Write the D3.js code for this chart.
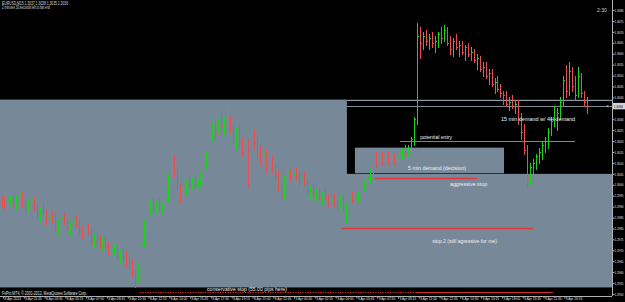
<!DOCTYPE html>
<html><head><meta charset="utf-8">
<script src="https://cdn.jsdelivr.net/npm/d3@7"></script>
<style>html,body{margin:0;padding:0;background:#000;overflow:hidden}svg{display:block}</style>
</head><body>
<svg id="c" width="625" height="302"></svg>
<script>
// ---------- DATA ----------
const firstOpen = 1.2994;
const highs = [
1.2995,1.2994,1.2993,1.2995,1.2996,1.2995,1.2999,1.2997,1.2993,1.2993,
1.2995,1.2994,1.2991,1.2990,1.2992,1.2989,1.2986,1.2988,1.2986,1.2984,
1.2986,1.2987,1.2985,1.2983,1.2985,1.2986,1.2984,1.2981,1.2980,1.2982,
1.2980,1.2978,1.2979,1.2977,1.2976,1.2977,1.2974,1.2972,1.2973,1.2972,
1.2970,1.2971,1.2969,1.2968,1.2966,1.2961,1.2964,1.2974,1.2984,1.2990,
1.2993,1.2994,1.2992,1.2994,1.2992,1.2995,1.3005,1.3015,1.3013,1.3008,
1.3001,1.2999,1.3002,1.3004,1.3003,1.3004,1.3002,1.3006,1.3009,1.3015,
1.3024,1.3028,1.3030,1.3031,1.3033,1.3031,1.3039,1.3032,1.3028,1.3026,
1.3027,1.3022,1.3020,1.3021,1.3024,1.3025,1.3022,1.3018,1.3016,1.3016,
1.3012,1.3013,1.3009,1.3007,1.3001,1.3004,1.3008,1.3007,1.3006,1.3008,
1.3006,1.3004,1.3006,1.3002,1.3000,1.3001,1.2998,1.2999,1.2997,1.2999,
1.2996,1.2995,1.2996,1.2993,1.2995,1.2996,1.2991,1.2995,1.2997,1.2996,
1.2997,1.2999,1.3002,1.3004,1.3007,1.3012,1.3015,1.3013,1.3015,1.3013,
1.3015,1.3013,1.3014,1.3013,1.3016,1.3017,1.3018,1.3018,1.3022,1.3031,
1.3074,1.3072,1.3070,1.3071,1.3069,1.3070,1.3068,1.3070,1.3072,1.3073,
1.3072,1.3068,1.3067,1.3069,1.3066,1.3066,1.3064,1.3065,1.3063,1.3062,
1.3060,1.3059,1.3056,1.3056,1.3053,1.3053,1.3049,1.3050,1.3046,1.3043,
1.3043,1.3040,1.3041,1.3039,1.3039,1.3033,1.3028,1.3018,1.3010,1.3012,
1.3014,1.3017,1.3020,1.3022,1.3026,1.3031,1.3036,1.3035,1.3040,1.3050,
1.3055,1.3056,1.3054,1.3050,1.3054,1.3051,1.3043,1.3040];
const lows = [
1.2990,1.2989,1.2988,1.2991,1.2990,1.2989,1.2993,1.2990,1.2987,1.2988,
1.2990,1.2988,1.2985,1.2984,1.2987,1.2982,1.2980,1.2983,1.2979,1.2977,
1.2980,1.2982,1.2979,1.2977,1.2979,1.2981,1.2978,1.2975,1.2974,1.2977,
1.2973,1.2972,1.2974,1.2971,1.2970,1.2971,1.2968,1.2966,1.2968,1.2966,
1.2964,1.2966,1.2963,1.2962,1.2958,1.2953,1.2955,1.2962,1.2972,1.2980,
1.2986,1.2988,1.2987,1.2989,1.2987,1.2990,1.2993,1.3002,1.3004,1.2998,
1.2992,1.2993,1.2996,1.2999,1.2998,1.2999,1.2998,1.3000,1.3004,1.3007,
1.3014,1.3020,1.3022,1.3024,1.3026,1.3023,1.3027,1.3024,1.3019,1.3017,
1.3018,1.3013,1.3012,1.2999,1.3014,1.3017,1.3012,1.3009,1.3008,1.3006,
1.3004,1.3006,1.3003,1.2997,1.2993,1.2994,1.3001,1.3002,1.3001,1.3002,
1.3000,1.2998,1.3000,1.2996,1.2994,1.2995,1.2993,1.2993,1.2991,1.2993,
1.2990,1.2989,1.2990,1.2988,1.2989,1.2988,1.2983,1.2990,1.2992,1.2991,
1.2992,1.2994,1.2997,1.2999,1.3001,1.3005,1.3008,1.3007,1.3009,1.3008,
1.3009,1.3008,1.3009,1.3008,1.3011,1.3012,1.3013,1.3013,1.3016,1.3018,
1.3028,1.3058,1.3062,1.3064,1.3062,1.3063,1.3061,1.3063,1.3065,1.3066,
1.3064,1.3060,1.3059,1.3062,1.3059,1.3060,1.3057,1.3059,1.3057,1.3056,
1.3053,1.3052,1.3050,1.3049,1.3046,1.3045,1.3042,1.3043,1.3040,1.3037,
1.3036,1.3034,1.3035,1.3033,1.3028,1.3021,1.3014,1.2999,1.3000,1.3005,
1.3007,1.3010,1.3012,1.3015,1.3017,1.3023,1.3027,1.3025,1.3030,1.3036,
1.3040,1.3041,1.3043,1.3039,1.3040,1.3040,1.3036,1.3033];
const closes = [
1.2992,1.2990,1.2993,1.2994,1.2991,1.2995,1.2996,1.2991,1.2989,1.2992,
1.2993,1.2989,1.2986,1.2989,1.2988,1.2983,1.2985,1.2984,1.2980,1.2982,
1.2985,1.2983,1.2980,1.2981,1.2984,1.2982,1.2979,1.2977,1.2979,1.2978,
1.2974,1.2976,1.2975,1.2972,1.2974,1.2972,1.2969,1.2970,1.2971,1.2967,
1.2968,1.2967,1.2965,1.2964,1.2959,1.2956,1.2963,1.2973,1.2982,1.2988,
1.2991,1.2989,1.2991,1.2990,1.2992,1.2994,1.3004,1.3010,1.3006,1.2999,
1.2994,1.2997,1.3001,1.3000,1.3002,1.3000,1.3001,1.3005,1.3008,1.3014,
1.3022,1.3025,1.3024,1.3030,1.3027,1.3029,1.3031,1.3025,1.3021,1.3024,
1.3019,1.3015,1.3018,1.3016,1.3022,1.3019,1.3014,1.3012,1.3014,1.3008,
1.3010,1.3007,1.3005,1.2998,1.2995,1.3003,1.3006,1.3003,1.3005,1.3004,
1.3001,1.3003,1.3001,1.2997,1.2999,1.2996,1.2997,1.2994,1.2996,1.2994,
1.2991,1.2993,1.2991,1.2990,1.2994,1.2989,1.2990,1.2994,1.2993,1.2995,
1.2996,1.2998,1.3001,1.3003,1.3006,1.3010,1.3009,1.3012,1.3010,1.3012,
1.3010,1.3012,1.3010,1.3013,1.3015,1.3016,1.3014,1.3017,1.3021,1.3030,
1.3068,1.3065,1.3068,1.3066,1.3067,1.3065,1.3066,1.3069,1.3067,1.3071,
1.3065,1.3062,1.3066,1.3063,1.3064,1.3061,1.3063,1.3060,1.3061,1.3057,
1.3058,1.3053,1.3054,1.3050,1.3051,1.3046,1.3047,1.3044,1.3042,1.3041,
1.3037,1.3038,1.3036,1.3037,1.3030,1.3024,1.3016,1.3003,1.3008,1.3010,
1.3013,1.3015,1.3018,1.3020,1.3024,1.3029,1.3030,1.3033,1.3038,1.3048,
1.3043,1.3052,1.3045,1.3041,1.3050,1.3042,1.3038,1.3036];

const priceTicks = [1.3080,1.3075,1.3070,1.3065,1.3060,1.3055,1.3050,1.3045,1.3040,
  1.3030,1.3025,1.3020,1.3015,1.3010,1.3005,1.3000,1.2995,1.2990,1.2985,1.2980,1.2975,
  1.2970,1.2965,1.2960,1.2955,1.2950];
const timeLabels = ["8 Apr 2013","8 Apr 01:45","8 Apr 03:30","8 Apr 05:15","8 Apr 07:00",
  "8 Apr 08:45","8 Apr 10:30","8 Apr 12:15","8 Apr 14:00","8 Apr 15:45","8 Apr 17:30",
  "8 Apr 19:15","8 Apr 21:00","8 Apr 22:45","9 Apr 00:30","9 Apr 02:15","9 Apr 04:00",
  "9 Apr 05:45","9 Apr 07:30","9 Apr 09:15","9 Apr 11:00","9 Apr 12:45","9 Apr 14:30",
  "9 Apr 16:15","9 Apr 18:00","9 Apr 19:45","9 Apr 21:30","9 Apr 23:15"];

// zones [low, high] and their bar-index spans
const grayZone = [1.2953, 1.3039];
const blackZone = [1.3005, 1.3039], blackZoneFrom = 116.3;
const demand5 = [1.3005, 1.3017], demand5Span = [119, 169.2];
const entryLevel = 1.3020, entrySpan = [134.2, 193.1];
const aggStop = 1.3003, aggSpan = [125.8, 160.1];
const stop2 = 1.2980, stop2Span = [114.6, 179];
const consStop = 1.2951, consSpan = [46.6, 139.2, 185.7];
const bidPrice = 1.3036;

// ---------- DRAW ----------
const W = 625, H = 302, plotR = 612, plotB = 296;
const svg = d3.select('#c');
const y = d3.scaleLinear().domain([1.2950, 1.3080]).range([294, 10]);
const x = d3.scaleLinear().domain([0, 197]).range([1.5, 1.5 + 2.97 * 197]);
const font = "'Liberation Sans', Arial, sans-serif";

svg.append('rect').attr('width', W).attr('height', H).attr('fill', '#000');
const plot = svg.append('g');
const gray = '#778899';
plot.append('rect').attr('x', 0).attr('y', y(grayZone[1])).attr('width', plotR)
  .attr('height', y(grayZone[0]) - y(grayZone[1])).attr('fill', gray);
plot.append('rect').attr('x', x(blackZoneFrom)).attr('y', y(blackZone[1]))
  .attr('width', plotR - x(blackZoneFrom)).attr('height', y(blackZone[0]) - y(blackZone[1])).attr('fill', '#000');
plot.append('rect').attr('x', x(demand5Span[0])).attr('y', y(demand5[1]))
  .attr('width', x(demand5Span[1]) - x(demand5Span[0])).attr('height', y(demand5[0]) - y(demand5[1]) - 0.6)
  .attr('fill', gray);

plot.append('line').attr('x1', x(blackZoneFrom)).attr('x2', plotR).attr('y1', Math.round(y(grayZone[1])) + 0.5)
  .attr('y2', Math.round(y(grayZone[1])) + 0.5).attr('stroke', '#8e9aa6').attr('stroke-width', 1);
plot.append('line').attr('x1', x(blackZoneFrom)).attr('x2', plotR).attr('y1', Math.round(y(bidPrice)) + 0.5)
  .attr('y2', Math.round(y(bidPrice)) + 0.5).attr('stroke', '#7e8a96').attr('stroke-width', 1);

// bars
const bars = closes.map((c, i) => ({i, o: i === 0 ? firstOpen : closes[i - 1], h: highs[i], l: lows[i], c}));
const green = '#19d419', red = '#ea4f4f';
const bg = plot.append('g').attr('shape-rendering', 'crispEdges');
bars.forEach(b => {
  const cx = Math.round(x(b.i)) + 0.5;
  const col = b.c >= b.o ? green : red;
  bg.append('line').attr('x1', cx).attr('x2', cx).attr('y1', y(b.h)).attr('y2', y(b.l) + 1).attr('stroke', col);
  bg.append('line').attr('x1', cx - 1).attr('x2', cx).attr('y1', Math.round(y(b.o)) + 0.5).attr('y2', Math.round(y(b.o)) + 0.5).attr('stroke', col);
  bg.append('line').attr('x1', cx).attr('x2', cx + 1.5).attr('y1', Math.round(y(b.c)) + 0.5).attr('y2', Math.round(y(b.c)) + 0.5).attr('stroke', col);
});

function hline(level, x1, x2, color, w, dash) {
  const yy = Math.round(y(level)) + 0.5;
  const l = plot.append('line').attr('x1', x(x1)).attr('x2', x(x2)).attr('y1', yy).attr('y2', yy)
    .attr('stroke', color).attr('stroke-width', w);
  if (dash) l.attr('stroke-dasharray', dash);
}
hline(entryLevel, entrySpan[0], entrySpan[1], '#2fbf2f', 1);
hline(aggStop, aggSpan[0], aggSpan[1], '#e23a3a', 1.4);
hline(stop2, stop2Span[0], stop2Span[1], '#e23a3a', 1.4);
hline(consStop, consSpan[0], consSpan[1], '#d42a2a', 1.2, '1.5,1');
hline(consStop, consSpan[1], consSpan[2], '#d42a2a', 1.2);

function label(txt, xa, xb, yy, size) {
  plot.append('text').attr('x', x(xa)).attr('y', yy).attr('font-family', font).attr('font-size', size || 6)
    .attr('fill', '#f2f2f2').attr('textLength', x(xb) - x(xa)).attr('lengthAdjust', 'spacingAndGlyphs').text(txt);
}
label('potential entry', 141, 151.7, y(entryLevel) - 2.3, 5.5);
label('15 min demand w/ 4H demand', 168.2, 193.1, 121, 6);
label('5 min demand (decision)', 136.9, 156.4, 170.2, 6);
label('aggressive stop', 151, 163.5, 186.2, 6);
label('stop 2 (still agressive for me)', 145, 166.8, 243.2, 6);
label('conservative stop (55.00 pips here)', 69.2, 96.1, 291, 6);

svg.append('text').attr('x', 2).attr('y', 5.2).attr('font-family', font).attr('font-size', 4.6).attr('fill', '#d8d8d8')
  .attr('textLength', 66).attr('lengthAdjust', 'spacingAndGlyphs').text('EURUSD,M15  1.3037 1.3038 1.3035 1.3036');
svg.append('text').attr('x', 2).attr('y', 8.8).attr('font-family', font).attr('font-size', 4.6).attr('fill', '#d8d8d8')
  .attr('textLength', 48).attr('lengthAdjust', 'spacingAndGlyphs').text('2 minutes 30 seconds left to bar end');
svg.append('text').attr('x', 597).attr('y', 11.5).attr('font-family', font).attr('font-size', 5).attr('fill', '#d8d8d8').text('2:30');
svg.append('text').attr('x', 2).attr('y', 295).attr('font-family', font).attr('font-size', 4.6).attr('fill', '#e0e0e0')
  .attr('textLength', 85).attr('lengthAdjust', 'spacingAndGlyphs').text('FxPro MT4, © 2001-2012, MetaQuotes Software Corp.');

// right price axis
const yAxis = d3.axisRight(y).tickValues(priceTicks).tickSize(2).tickFormat(d3.format('.4f'));
const ya = svg.append('g').attr('transform', `translate(${plotR + 0.5},0)`).call(yAxis);
ya.select('.domain').attr('stroke', '#b0b0b0').attr('d', `M0,0V${plotB}`);
ya.selectAll('.tick line').attr('stroke', '#b0b0b0');
ya.selectAll('.tick text').attr('fill', '#e0e0e0').attr('font-size', 3.6).attr('font-family', font).attr('x', 2)
  .attr('textLength', 9).attr('lengthAdjust', 'spacingAndGlyphs');

// bid price label
const by = y(bidPrice);
svg.append('rect').attr('x', plotR + 1).attr('y', by - 3.2).attr('width', 12).attr('height', 6.4).attr('fill', '#cfd6dc');
svg.append('text').attr('x', plotR + 1.8).attr('y', by + 1.4).attr('font-family', font).attr('font-size', 3.6).attr('fill', '#000')
  .attr('textLength', 9).attr('lengthAdjust', 'spacingAndGlyphs').text(d3.format('.4f')(bidPrice));
svg.append('text').attr('x', 606).attr('y', by + 1.6).attr('font-family', font).attr('font-size', 4.6).attr('fill', '#e0e0e0').text('<');

// bottom time axis
const tIdx = timeLabels.map((d, k) => 0.5 + 7 * k);
const xAxis = d3.axisBottom(x).tickValues(tIdx).tickSize(2).tickFormat((d, k) => timeLabels[k]);
const xa = svg.append('g').attr('transform', `translate(0,${plotB + 0.5})`).call(xAxis);
xa.select('.domain').attr('stroke', '#b0b0b0').attr('d', `M0,0H${plotR}`);
xa.selectAll('.tick line').attr('stroke', '#b0b0b0');
xa.selectAll('.tick text').attr('fill', '#e0e0e0').attr('font-size', 4.2).attr('font-family', font)
  .attr('text-anchor', 'start').attr('dx', 1).attr('y', 0.8).attr('dy', '0.71em')
  .attr('textLength', 16.5).attr('lengthAdjust', 'spacingAndGlyphs');
</script>
</body></html>
